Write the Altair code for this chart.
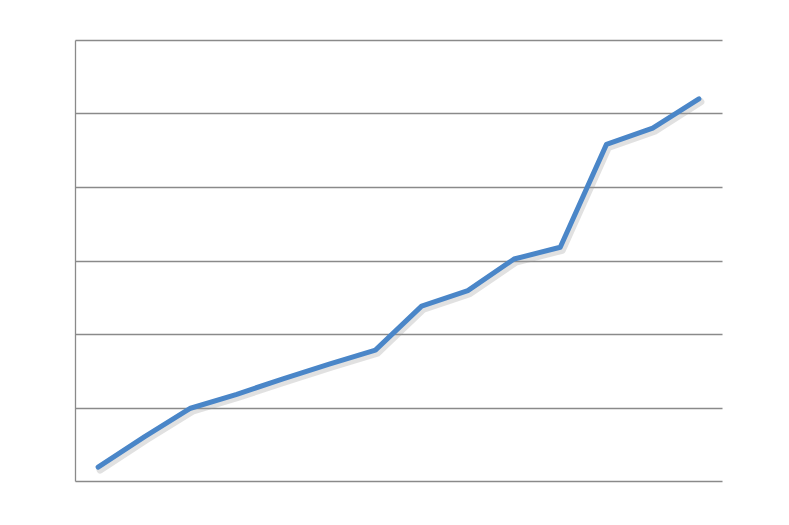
import altair as alt
import pandas as pd

categories = [str(i) for i in range(1, 15)]
values = [0.19, 0.6, 0.99, 1.18, 1.39, 1.59, 1.78, 2.38, 2.59, 3.02, 3.18, 4.58, 4.80, 5.2]

df = pd.DataFrame({"cat": categories, "val": values})

x = alt.X("cat:O", sort=categories, scale=alt.Scale(padding=0.5), axis=None)
y = alt.Y("val:Q", scale=alt.Scale(domain=[0, 6], nice=False),
          axis=alt.Axis(values=[0, 1, 2, 3, 4, 5, 6], labels=False, ticks=False, title=None,
                        grid=True, gridColor="#8a8a8a", gridWidth=1.3,
                        domain=True, domainColor="#8a8a8a", domainWidth=1.3))

shadow = alt.Chart(df).mark_line(color="#9a9a9a", strokeWidth=7, opacity=0.3,
                                 xOffset=2, yOffset=3, strokeJoin="round", strokeCap="round").encode(x=x, y=y)
line = alt.Chart(df).mark_line(color="#4a86c8", strokeWidth=5,
                               strokeJoin="round", strokeCap="round").encode(x=x, y=y)

chart = alt.layer(shadow, line).properties(
    width=647, height=441,
    background="white",
    padding={"left": 67, "top": 32, "right": 10, "bottom": 10},
).configure_view(strokeWidth=0, stroke=None)

chart.save("out.html", embed_options={"renderer": "svg", "actions": False})
